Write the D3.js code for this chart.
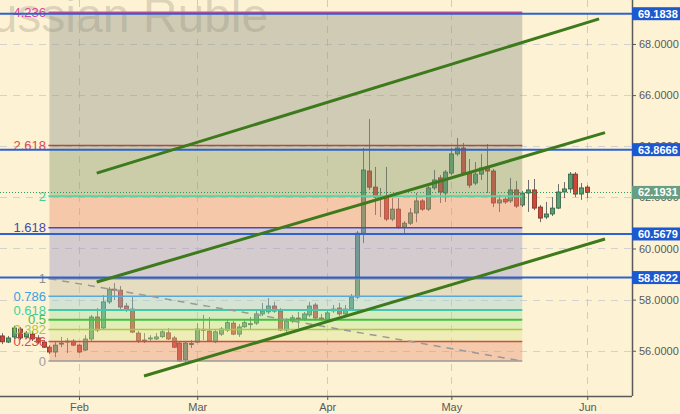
<!DOCTYPE html>
<html><head><meta charset="utf-8">
<script src="https://cdn.jsdelivr.net/npm/d3@7"></script>
<style>
html,body{margin:0;padding:0;background:#fdf2d3;}
svg{display:block;font-family:"Liberation Sans",Arial,sans-serif;}
</style></head>
<body><svg id="chart" width="680" height="414"></svg>
<script>
// ---------- DATA ----------
const startDate = "2018-01-15";
const openV  = [56.58,56.34,56.54,56.85,56.54,56.65,56.50,56.34,56.14,55.95,56.26,56.36,56.38,56.22,56.03,56.46,57.32,56.89,57.91,58.41,58.37,57.75,57.63,56.69,56.42,56.46,56.46,56.55,56.70,56.50,56.30,55.64,56.26,56.34,56.84,56.77,56.35,56.65,56.81,57.08,56.65,56.94,57.04,57.08,57.44,57.52,57.75,57.55,56.81,57.16,57.28,57.24,57.40,57.79,57.28,57.20,57.56,57.67,57.44,57.63,58.10,60.60,63.03,62.40,62.05,62.05,61.15,61.54,60.84,60.99,61.39,61.86,61.54,62.37,62.76,62.17,62.95,63.70,63.93,62.95,62.56,62.91,63.19,63.03,61.78,61.93,61.86,62.29,61.70,62.17,62.29,61.62,61.23,61.35,61.58,62.21,62.33,62.91,62.13,62.40];
const highV  = [56.69,56.58,56.98,56.93,56.77,56.77,56.61,56.42,56.22,56.34,56.54,56.50,56.46,56.26,56.61,57.40,57.67,58.18,58.49,58.65,58.53,57.87,58.10,56.77,56.69,56.61,56.69,56.85,56.89,56.58,56.34,56.38,56.42,57.08,57.40,57.32,56.81,56.93,57.20,57.16,57.04,57.20,57.32,57.55,57.87,58.06,57.91,57.67,57.28,57.40,57.52,57.52,57.91,57.87,57.44,57.59,57.79,57.87,57.79,58.22,60.68,63.93,65.06,63.19,62.37,63.19,61.97,61.97,61.07,61.58,62.17,61.93,62.56,63.07,62.87,63.07,63.93,64.32,64.13,63.50,63.38,63.70,64.09,63.11,62.09,62.01,62.76,62.64,62.25,62.68,62.72,61.70,61.82,62.01,62.52,62.60,62.99,62.99,62.56,62.48];
const lowV   = [56.26,56.30,56.46,56.42,56.46,56.38,56.26,56.11,55.87,55.75,56.14,55.91,56.18,55.91,55.99,56.38,56.73,56.81,57.83,57.98,57.59,57.52,56.69,56.30,56.30,56.38,56.42,56.50,56.42,56.11,55.56,55.56,56.11,56.30,56.42,56.34,56.30,56.58,56.73,56.61,56.54,56.89,56.81,57.01,57.36,57.44,57.48,56.77,56.73,57.08,56.89,57.16,57.32,57.20,57.16,57.12,57.48,57.36,57.36,57.59,58.02,60.21,62.29,61.31,61.23,61.07,61.07,60.76,60.60,60.92,61.03,61.47,61.47,62.29,61.78,61.82,62.87,63.62,62.87,62.37,62.48,62.68,62.17,61.62,61.43,61.74,61.78,61.58,61.62,61.43,61.50,61.03,61.15,61.27,61.54,61.97,62.21,62.01,61.90,61.97];
const closeV = [56.35,56.50,56.89,56.50,56.69,56.46,56.34,56.14,55.95,56.22,56.30,56.38,56.22,55.95,56.46,57.32,56.81,57.91,58.41,58.37,57.71,57.59,56.73,56.38,56.40,56.50,56.54,56.74,56.46,56.14,55.60,56.30,56.28,56.85,56.82,56.38,56.74,56.85,57.10,56.65,56.93,57.10,57.06,57.44,57.55,57.75,57.55,56.81,57.16,57.29,57.24,57.44,57.75,57.28,57.24,57.48,57.63,57.44,57.63,58.10,60.60,63.07,62.40,62.01,62.03,61.15,61.54,60.84,60.99,61.39,61.86,61.54,62.37,62.68,62.21,62.99,63.70,63.93,62.95,62.48,62.91,63.15,63.03,61.78,61.90,61.82,62.29,61.66,62.17,62.29,61.58,61.19,61.35,61.58,62.21,62.33,62.91,62.13,62.37,62.19];

const monthTickDates = ["2018-02-01","2018-03-01","2018-04-02","2018-05-01","2018-06-01"];
const monthTickLabels = ["Feb","Mar","Apr","May","Jun"];
const yTickValues = [56,58,60,62,64,66,68];

const fibLevels = [0,0.236,0.382,0.5,0.618,0.786,1,1.618,2,2.618,4.236];
const fibLabels = ["0","0.236","0.382","0.5","0.618","0.786","1","1.618","2","2.618","4.236"];
const fibLineColors = ["#9a9a9a","#cc5040","#a8cc40","#44c040","#44c8a8","#5aa8d8","#8a8a8a","#4848c8","#60d0a0","#b04848","#d84890"];
const fibTextColors = ["#a0a0a0","#e04848","#a8c840","#48c040","#40d0a0","#40a0e0","#909090","#4848b0","#40d0a0","#e04848","#e040a0"];
const fibBandColors = ["rgba(230,140,116,0.4)","rgba(215,227,143,0.4)","rgba(185,229,143,0.4)","rgba(160,224,163,0.4)","rgba(153,207,211,0.4)","rgba(195,187,163,0.4)","rgba(150,144,201,0.4)","rgba(230,137,108,0.4)","rgba(128,150,108,0.4)","rgba(138,144,136,0.4)"];
const fibStartDate = "2018-01-25", fibEndDate = "2018-05-17";
const fibZero = 55.60, fibOne = 58.82;

const levelValues = [69.1838,63.8666,60.5679,58.8622];
const lastPrice = 62.1931;

// channel lines: [date, value, date, value]
const channelLines = [
  ["2018-02-06",62.95,"2018-06-05",68.98],
  ["2018-02-06",58.69,"2018-06-06",64.53],
  ["2018-02-16",55.01,"2018-06-06",60.37]
];
const diagLine = ["2018-01-25",58.82,"2018-05-17",55.60];

// ---------- BUILD ----------
const dates = [];
{
  let d = new Date(startDate+"T00:00:00Z");
  while (dates.length < closeV.length) {
    const wd = d.getUTCDay();
    if (wd !== 0 && wd !== 6) dates.push(d.toISOString().slice(0,10));
    d = new Date(d.getTime()+86400000);
  }
}
const idx = s => dates.indexOf(s) >= 0 ? dates.indexOf(s) : extIdx(s);
function extIdx(s){ // trading-day index beyond the data range
  let d = new Date(dates[dates.length-1]+"T00:00:00Z"), i = dates.length-1;
  const t = new Date(s+"T00:00:00Z");
  while (d < t) { d = new Date(d.getTime()+86400000); const w=d.getUTCDay(); if(w!==0&&w!==6) i++; }
  return i;
}
const data = dates.map((d,i)=>({d,i,o:openV[i],h:highV[i],l:lowV[i],c:closeV[i]}));

const PR = 632, PB = 396;
const svg = d3.select("#chart");
const x = d3.scaleLinear().domain([-0.37,106.57]).range([0,PR]);
const y = d3.scaleLinear().domain([54.23,69.72]).range([PB,0]);

svg.append("rect").attr("width",680).attr("height",414).attr("fill","#fdf2d3");

// watermark
svg.append("text").attr("x",-44).attr("y",32).attr("font-size",48)
  .attr("fill","rgba(0,0,0,0.14)").text("Russian Ruble");

// grid
const g = svg.append("g");
g.selectAll(".hg").data(yTickValues).join("line")
  .attr("x1",0).attr("x2",PR).attr("y1",d=>Math.round(y(d))+0.5).attr("y2",d=>Math.round(y(d))+0.5)
  .attr("stroke","#d4d2cc").attr("stroke-dasharray","7,6");
g.selectAll(".vg").data(monthTickDates).join("line")
  .attr("x1",d=>Math.round(x(idx(d)))+0.5).attr("x2",d=>Math.round(x(idx(d)))+0.5).attr("y1",0).attr("y2",PB)
  .attr("stroke","#c6cae0").attr("stroke-dasharray","7,6");

// candles
const cg = svg.append("g");
cg.selectAll(".wick").data(data).join("line")
  .attr("x1",d=>Math.round(x(d.i))+0.5).attr("x2",d=>Math.round(x(d.i))+0.5)
  .attr("y1",d=>y(d.h)).attr("y2",d=>y(d.l)).attr("stroke","#6e6e6e").attr("stroke-width",1);
cg.selectAll(".body").data(data).join("rect")
  .attr("x",d=>Math.round(x(d.i))-1.5).attr("width",4)
  .attr("y",d=>y(Math.max(d.o,d.c))).attr("height",d=>Math.max(1,Math.abs(y(d.o)-y(d.c))))
  .attr("fill",d=>d.c>=d.o?"#5a9e76":"#d2463a")
  .attr("stroke",d=>d.c>=d.o?"#2f5e40":"#7e2a22").attr("stroke-width",0.8);

// fib bands (overlay)
const fx0 = x(idx(fibStartDate)), fx1 = x(idx(fibEndDate));
const fibVal = f => fibZero + f*(fibOne-fibZero);
const fg = svg.append("g");
fg.selectAll("rect").data(fibLevels.slice(0,-1)).join("rect")
  .attr("x",fx0).attr("width",fx1-fx0)
  .attr("y",(d,i)=>y(fibVal(fibLevels[i+1]))).attr("height",(d,i)=>y(fibVal(d))-y(fibVal(fibLevels[i+1])))
  .attr("fill",(d,i)=>fibBandColors[i]);
fg.selectAll("line").data(fibLevels).join("line")
  .attr("x1",fx0-1).attr("x2",fx1).attr("y1",d=>y(fibVal(d))).attr("y2",d=>y(fibVal(d)))
  .attr("stroke",(d,i)=>fibLineColors[i]).attr("stroke-width",(d,i)=>(d===2||d===0.5||d===0.618)?2:1.5);
fg.selectAll("text").data(fibLevels).join("text")
  .attr("x",46).attr("y",d=>y(fibVal(d))).attr("dy","0.36em").attr("text-anchor","end")
  .attr("font-size",13).attr("fill",(d,i)=>fibTextColors[i]).text((d,i)=>fibLabels[i]);

// diagonal dashed
svg.append("line").attr("x1",x(idx(diagLine[0]))).attr("y1",y(diagLine[1]))
  .attr("x2",x(idx(diagLine[2]))).attr("y2",y(diagLine[3]))
  .attr("stroke","#9a9898").attr("stroke-width",1.5).attr("stroke-dasharray","7,6");

// level lines
svg.selectAll(".lvl").data(levelValues).join("line")
  .attr("x1",0).attr("x2",PR).attr("y1",d=>y(d)).attr("y2",d=>y(d))
  .attr("stroke","#2e62d0").attr("stroke-width",2);

// current price dotted
svg.append("line").attr("x1",0).attr("x2",PR).attr("y1",Math.round(y(lastPrice))+0.5).attr("y2",Math.round(y(lastPrice))+0.5)
  .attr("stroke","#2f9a60").attr("stroke-width",1).attr("stroke-dasharray","1,2");

// channel lines
svg.selectAll(".ch").data(channelLines).join("line")
  .attr("x1",d=>x(idx(d[0]))).attr("y1",d=>y(d[1])).attr("x2",d=>x(idx(d[2]))).attr("y2",d=>y(d[3]))
  .attr("stroke","#3c7a1c").attr("stroke-width",3);

// axes
const yAxis = d3.axisRight(y).tickValues(yTickValues).tickFormat(d3.format(".4f")).tickSize(4).tickSizeOuter(0);
const ya = svg.append("g").attr("transform",`translate(${PR},0)`).call(yAxis);
const xAxis = d3.axisBottom(x).tickValues(monthTickDates.map(idx)).tickFormat((d,i)=>monthTickLabels[i]).tickSize(4).tickSizeOuter(0);
const xa = svg.append("g").attr("transform",`translate(0,${PB})`).call(xAxis);
[ya,xa].forEach(a=>{
  a.select(".domain").attr("stroke","#5a5a5a").attr("stroke-width",1.5);
  a.selectAll(".tick line").attr("stroke","#5a5a5a");
  a.selectAll(".tick text").attr("fill","#5a5a5a").attr("font-size",11).attr("font-family","Liberation Sans, Arial, sans-serif");
});
ya.select(".domain").attr("d",`M0.5,0V${PB}`);
xa.select(".domain").attr("d",`M0,0.5H${PR}`);

// right labels
const boxes = levelValues.map(v=>({v,fill:"#1c58d0"})).concat([{v:lastPrice,fill:"#6a9e82"}]);
const bg = svg.append("g").selectAll("g").data(boxes).join("g").attr("transform",d=>`translate(${PR},${y(d.v)})`);
bg.append("rect").attr("x",0).attr("y",-6.5).attr("width",48).attr("height",13).attr("fill",d=>d.fill);
bg.append("text").attr("x",6).attr("dy","0.36em").attr("font-size",11).attr("font-weight","bold")
  .attr("fill","#ffffff").text(d=>d3.format(".4f")(d.v));
</script></body></html>
